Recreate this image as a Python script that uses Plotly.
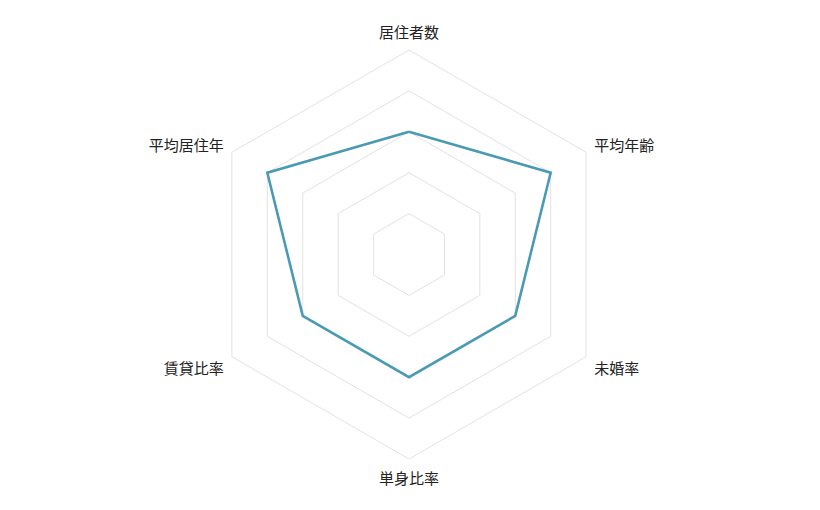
import plotly.graph_objects as go

categories = ["居住者数", "平均年齢", "未婚率", "単身比率", "賃貸比率", "平均居住年"]
values = [3, 4, 3, 3, 3, 4]
ring_vals = [1, 2, 3, 4, 5]

grid = "#e2e2e2"

fig = go.Figure()
fig.add_trace(go.Scatterpolar(
    r=values + values[:1],
    theta=categories + categories[:1],
    mode="lines",
    line=dict(color="#4b9ab4", width=2.6),
    hoverinfo="r+theta",
    showlegend=False,
))

fig.update_layout(
    width=820,
    height=510,
    paper_bgcolor="white",
    plot_bgcolor="white",
    margin=dict(l=71, r=89, t=42, b=59),
    font=dict(family="Noto Sans CJK JP", size=15, color="#222"),
    polar=dict(
        bgcolor="white",
        gridshape="linear",
        radialaxis=dict(
            range=[0, 5],
            tickvals=ring_vals,
            showticklabels=False,
            showline=False,
            ticks="",
            gridcolor=grid,
            gridwidth=1,
        ),
        angularaxis=dict(
            direction="clockwise",
            rotation=90,
            showgrid=False,
            showline=True,
            linecolor=grid,
            linewidth=1,
            ticks="outside",
            ticklen=6,
            tickcolor="rgba(0,0,0,0)",
            tickfont=dict(size=15, color="#222"),
        ),
    ),
)

fig.write_html("out.html")
